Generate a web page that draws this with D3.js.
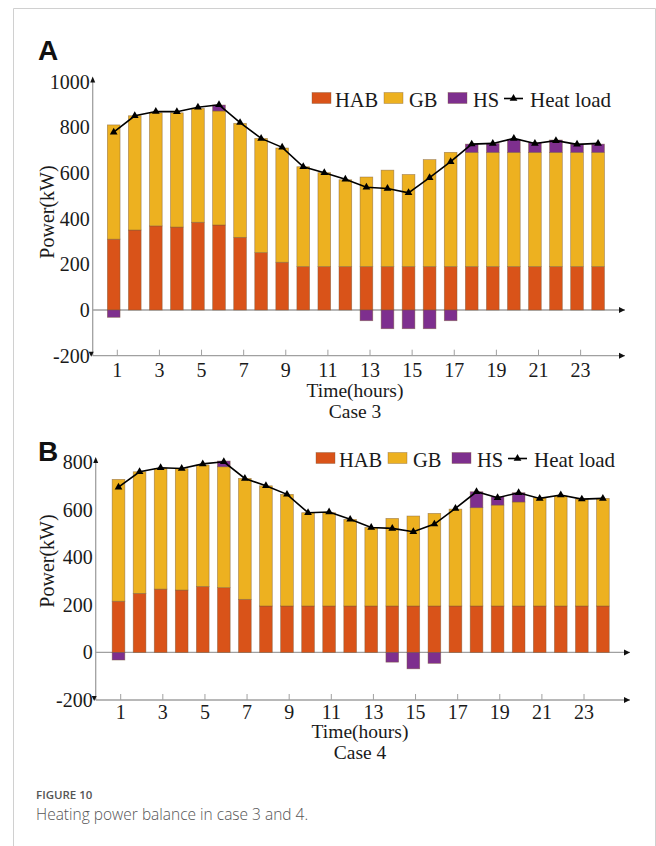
<!DOCTYPE html>
<html>
<head>
<meta charset="utf-8">
<script src="https://cdn.jsdelivr.net/npm/d3@7"></script>
<style>
  body { margin: 0; background: #fff; }
  svg { display: block; }
</style>
</head>
<body>
<div id="chart"></div>
<script>
// data
const hours = d3.range(1, 25);
const seriesNames = ["HAB", "GB", "HS", "Heat load"];

// case 3
const habA  = [310, 350, 368, 363, 384, 372, 318, 251, 209, 190, 190, 190, 190, 190, 190, 190, 190, 190, 190, 190, 190, 190, 190, 190];
const gbA   = [500, 500, 495, 500, 498, 499, 499, 500, 500, 437, 411, 380, 392, 422, 403, 468, 500, 500, 500, 500, 500, 500, 500, 500];
const hsA   = [-32, 0, 0, 0, 0, 26, 0, 0, 0, 0, 0, 0, -47, -82, -82, -82, -47, 36, 39, 57, 42, 54, 36, 36];
const loadA = [778, 850, 869, 868, 887, 898, 820, 751, 712, 627, 601, 572, 537, 532, 513, 579, 649, 726, 729, 751, 729, 741, 725, 729];
const yTicksA = [-200, 0, 200, 400, 600, 800, 1000];

// case 4
const habB  = [215, 248, 266, 262, 277, 272, 223, 195, 195, 195, 195, 195, 195, 195, 195, 195, 195, 195, 195, 195, 195, 195, 195, 195];
const gbB   = [512, 511, 507, 510, 510, 508, 508, 505, 469, 392, 392, 364, 330, 368, 378, 389, 407, 413, 424, 437, 455, 462, 449, 452];
const hsB   = [-32, 0, 0, 0, 0, 24, 0, 0, 0, 0, 0, 0, 0, -41, -69, -46, 0, 67, 35, 39, 0, 0, 0, 0];
const loadB = [694, 759, 776, 773, 792, 801, 731, 700, 664, 587, 590, 559, 525, 521, 507, 539, 605, 675, 650, 671, 647, 661, 644, 647];
const yTicksB = [-200, 0, 200, 400, 600, 800];

const xTicks = [1, 3, 5, 7, 9, 11, 13, 15, 17, 19, 21, 23];

const colors = { HAB: "#D95319", GB: "#EDB120", HS: "#7E2F8E" };
const serif = "'Liberation Serif', 'Times New Roman', serif";
const axisColor = "#a0a0a0";

const W = 656, H = 846;
const svg = d3.select("#chart").append("svg")
  .attr("width", W).attr("height", H);

// outer frame
svg.append("path")
  .attr("d", `M13.5,${H} V8.5 H655.5 V${H}`)
  .attr("fill", "none").attr("stroke", "#d0d0d0").attr("stroke-width", 1);

function drawPanel(p) {
  const g = svg.append("g");
  const x = d3.scaleLinear().domain([1, 24]).range([p.x0, p.x0 + 23 * 21.06]);
  const y = d3.scaleLinear().domain(p.yDomain).range([p.yBottom, p.yTop]);
  const bw = 12.7;

  const rows = hours.map((h, i) => ({
    h, hab: p.hab[i], gb: p.gb[i], hs: p.hs[i], load: p.load[i]
  }));

  // panel letter
  g.append("text").attr("x", 38).attr("y", p.letterY)
    .attr("font-family", "'Liberation Sans', Arial, sans-serif")
    .attr("font-weight", "bold").attr("font-size", 28).attr("fill", "#111")
    .text(p.letter);

  // zero line
  g.append("line")
    .attr("x1", p.axisX).attr("x2", p.axisEnd)
    .attr("y1", y(0)).attr("y2", y(0))
    .attr("stroke", axisColor).attr("stroke-width", 1.3);

  // bars
  const edge = { stroke: "#7a5a3a", "stroke-opacity": 0.6, "stroke-width": 0.7 };
  const bar = (sel, cls, y0, y1, fill) => {
    sel.selectAll("rect." + cls).data(rows.filter(d => y1(d) !== y0(d)))
      .enter().append("rect").attr("class", cls)
      .attr("x", d => x(d.h) - bw / 2).attr("width", bw)
      .attr("y", d => y(Math.max(y0(d), y1(d))))
      .attr("height", d => Math.abs(y(y0(d)) - y(y1(d))))
      .attr("fill", fill)
      .attr("stroke", edge.stroke).attr("stroke-opacity", edge["stroke-opacity"])
      .attr("stroke-width", edge["stroke-width"]);
  };
  bar(g, "hab", d => 0, d => d.hab, colors.HAB);
  bar(g, "gb", d => d.hab, d => d.hab + d.gb, colors.GB);
  bar(g, "hsp", d => d.hab + d.gb, d => d.hab + d.gb + Math.max(d.hs, 0), colors.HS);
  bar(g, "hsn", d => 0, d => Math.min(d.hs, 0), colors.HS);

  // heat load line
  g.append("path").datum(rows)
    .attr("d", d3.line().x(d => x(d.h)).y(d => y(d.load)))
    .attr("fill", "none").attr("stroke", "#000").attr("stroke-width", 1.6);
  g.selectAll("path.mk").data(rows).enter().append("path").attr("class", "mk")
    .attr("d", d3.symbol().type(d3.symbolTriangle).size(26))
    .attr("transform", d => `translate(${x(d.h)},${y(d.load)})`)
    .attr("fill", "#000");

  // y axis
  g.append("line").attr("x1", p.axisX).attr("x2", p.axisX)
    .attr("y1", p.yTop - 2).attr("y2", p.yBottom)
    .attr("stroke", axisColor).attr("stroke-width", 1.3);
  g.append("path")
    .attr("d", `M${p.axisX - 2.5},${p.yTop + 1} L${p.axisX + 2.5},${p.yTop + 1} L${p.axisX},${p.yTop - 5} Z`)
    .attr("fill", "#111");
  g.append("path")
    .attr("d", `M${p.axisX - 4},${p.yBottom - 4} L${p.axisX + 1},${p.yBottom - 4} L${p.axisX - 1.5},${p.yBottom + 1} Z`)
    .attr("fill", "#111");
  g.selectAll("text.yt").data(p.yTicks).enter().append("text").attr("class", "yt")
    .attr("x", p.axisX - 3).attr("y", d => y(d)).attr("dy", "0.35em")
    .attr("text-anchor", "end").attr("font-family", serif).attr("font-size", 20)
    .attr("fill", "#1a1a1a").text(d => d);

  // bottom axis
  g.append("line").attr("x1", p.axisX).attr("x2", p.axisEnd)
    .attr("y1", p.yBottom).attr("y2", p.yBottom)
    .attr("stroke", axisColor).attr("stroke-width", 1.3);
  [y(0), p.yBottom].forEach(yy => {
    g.append("path")
      .attr("d", `M${p.axisEnd - 6},${yy - 3} L${p.axisEnd},${yy} L${p.axisEnd - 6},${yy + 3} Z`)
      .attr("fill", "#111");
  });
  g.selectAll("line.xt").data(xTicks).enter().append("line").attr("class", "xt")
    .attr("x1", d => x(d) + p.tickShift).attr("x2", d => x(d) + p.tickShift)
    .attr("y1", p.yBottom).attr("y2", p.yBottom - 6)
    .attr("stroke", axisColor).attr("stroke-width", 1);
  g.selectAll("text.xtl").data(xTicks).enter().append("text").attr("class", "xtl")
    .attr("x", d => x(d) + p.tickShift).attr("y", p.xLabelY)
    .attr("text-anchor", "middle").attr("font-family", serif).attr("font-size", 20)
    .attr("fill", "#1a1a1a").text(d => d);

  // titles
  g.append("text").attr("x", p.titleX).attr("y", p.titleY)
    .attr("text-anchor", "middle").attr("font-family", serif).attr("font-size", 19.5)
    .attr("fill", "#1a1a1a").text("Time(hours)");
  g.append("text").attr("x", p.titleX).attr("y", p.titleY + 20.5)
    .attr("text-anchor", "middle").attr("font-family", serif).attr("font-size", 19.5)
    .attr("fill", "#1a1a1a").text(p.caseLabel);
  g.append("text")
    .attr("transform", `translate(54,${p.yLabelY}) rotate(-90)`)
    .attr("text-anchor", "middle").attr("font-family", serif).attr("font-size", 20)
    .attr("fill", "#1a1a1a").text("Power(kW)");

  // legend
  const lg = g.append("g").attr("transform", `translate(${p.legX},${p.legY})`);
  const items = [
    { name: seriesNames[0], bx: 0, tx: 23, fill: colors.HAB },
    { name: seriesNames[1], bx: 72, tx: 97, fill: colors.GB },
    { name: seriesNames[2], bx: 136, tx: 161, fill: colors.HS }
  ];
  items.forEach(it => {
    lg.append("rect").attr("x", it.bx).attr("y", 0).attr("width", 19).attr("height", 11)
      .attr("fill", it.fill).attr("stroke", edge.stroke).attr("stroke-opacity", 0.5)
      .attr("stroke-width", 0.7);
    lg.append("text").attr("x", it.tx).attr("y", 14).attr("font-family", serif)
      .attr("font-size", 20.5).attr("fill", "#1a1a1a").text(it.name);
  });
  lg.append("line").attr("x1", 192).attr("x2", 211).attr("y1", 6).attr("y2", 6)
    .attr("stroke", "#000").attr("stroke-width", 1.6);
  lg.append("path").attr("d", d3.symbol().type(d3.symbolTriangle).size(26))
    .attr("transform", "translate(201.5,6)").attr("fill", "#000");
  lg.append("text").attr("x", 218).attr("y", 14).attr("font-family", serif)
    .attr("font-size", 21).attr("fill", "#1a1a1a").text(seriesNames[3]);
}

drawPanel({
  letter: "A", letterY: 60, caseLabel: "Case 3",
  hab: habA, gb: gbA, hs: hsA, load: loadA, yTicks: yTicksA,
  yDomain: [-200, 1000], yBottom: 355.7, yTop: 81.5,
  x0: 113.7, tickShift: 3.6, axisX: 92.7, axisEnd: 625,
  xLabelY: 376.5, titleX: 355, titleY: 397, yLabelY: 212,
  legX: 312, legY: 92.5
});

drawPanel({
  letter: "B", letterY: 461, caseLabel: "Case 4",
  hab: habB, gb: gbB, hs: hsB, load: loadB, yTicks: yTicksB,
  yDomain: [-200, 800], yBottom: 700, yTop: 462,
  x0: 118.5, tickShift: 2.2, axisX: 95.7, axisEnd: 630,
  xLabelY: 718.5, titleX: 360, titleY: 738, yLabelY: 561,
  legX: 316, legY: 452.5
});

// caption
svg.append("text").attr("x", 36).attr("y", 799)
  .attr("font-family", "'Open Sans', 'Noto Sans', sans-serif").attr("font-weight", 600)
  .attr("font-size", 11.5).attr("fill", "#555").text("FIGURE 10");
svg.append("text").attr("x", 36).attr("y", 820)
  .attr("font-family", "'Open Sans', 'Noto Sans', sans-serif").attr("font-weight", 300)
  .attr("font-size", 15.5).attr("fill", "#555").text("Heating power balance in case 3 and 4.");
</script>
</body>
</html>
